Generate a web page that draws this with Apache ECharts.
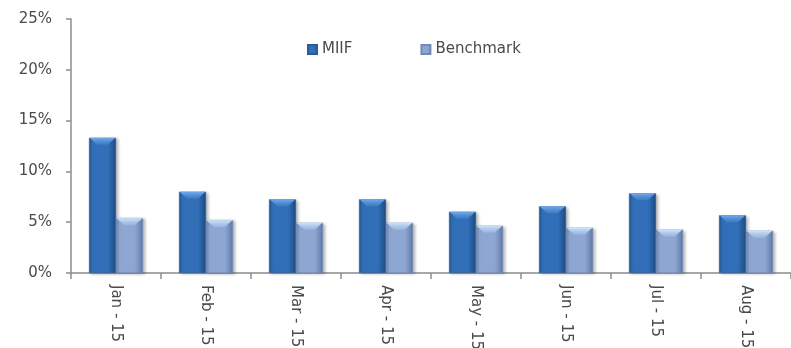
<!DOCTYPE html>
<html>
<head>
<meta charset="utf-8">
<script src="https://cdn.jsdelivr.net/npm/echarts@6/dist/echarts.min.js"></script>
<style>
  html, body { margin: 0; padding: 0; background: #fff; }
  #chart { width: 791px; height: 348px; }
</style>
</head>
<body>
<div id="chart"></div>
<script>
// Monthly returns, 2015
const months = ['Jan - 15', 'Feb - 15', 'Mar - 15', 'Apr - 15', 'May - 15', 'Jun - 15', 'Jul - 15', 'Aug - 15'];
const miif = [13.3, 8.0, 7.25, 7.25, 6.03, 6.56, 7.84, 5.68];
const benchmark = [5.4, 5.2, 4.95, 4.95, 4.66, 4.46, 4.27, 4.17];
const yTicks = [0, 5, 10, 15, 20, 25];

const FONT = '"DejaVu Sans", sans-serif';
const TEXT = '#4a4a4a';
const BAR_W = 27;

// horizontal shading gives the columns a rounded, lit look
function shade(edge, mid, right) {
  return new echarts.graphic.LinearGradient(0, 0, 1, 0, [
    { offset: 0, color: edge },
    { offset: 0.12, color: mid },
    { offset: 0.7, color: mid },
    { offset: 1, color: right }
  ]);
}

// bevelled cap drawn on top of each column
function cap(name, values, dx, top, bottom) {
  return {
    name: name,
    type: 'pictorialBar',
    data: values,
    symbol: 'path://M0,0 L27,0 L19,7 L8,7 Z',
    symbolSize: [BAR_W - 1, 7],
    symbolPosition: 'end',
    symbolOffset: [dx, 0],
    z: 5,
    silent: true,
    itemStyle: {
      color: new echarts.graphic.LinearGradient(0, 0, 0, 1, [
        { offset: 0, color: top },
        { offset: 1, color: bottom }
      ])
    }
  };
}

const chart = echarts.init(document.getElementById('chart'), null, { renderer: 'canvas' });

chart.setOption({
  animation: false,
  textStyle: { fontFamily: FONT },
  legend: {
    top: 37,
    left: 302,
    itemWidth: 9,
    itemHeight: 9,
    itemGap: 68,
    icon: 'rect',
    textStyle: { fontFamily: FONT, fontSize: 15, color: TEXT },
    data: ['MIIF', 'Benchmark']
  },
  grid: { left: 71, right: 0, top: 19, bottom: 75, containLabel: false, outerBoundsMode: 'none' },
  xAxis: {
    type: 'category',
    data: months,
    axisLine: { lineStyle: { color: '#8c8c8c', width: 1.5 } },
    axisTick: { show: true, length: 6, lineStyle: { color: '#8c8c8c', width: 1.5 } },
    axisLabel: {
      rotate: -90,
      margin: 12,
      fontFamily: FONT,
      fontSize: 15,
      color: TEXT
    }
  },
  yAxis: {
    type: 'value',
    min: yTicks[0],
    max: yTicks[yTicks.length - 1],
    interval: 5,
    splitLine: { show: false },
    axisLine: { show: true, lineStyle: { color: '#8c8c8c', width: 1.5 } },
    axisTick: { show: true, length: 5, lineStyle: { color: '#8c8c8c', width: 1.5 } },
    axisLabel: {
      margin: 19,
      fontFamily: FONT,
      fontSize: 15,
      color: TEXT,
      formatter: v => v + '%'
    }
  },
  series: [
    {
      name: 'MIIF',
      type: 'bar',
      data: miif,
      barWidth: BAR_W,
      barGap: '0%',
      itemStyle: {
        color: shade('#25558f', '#3170b8', '#1d4a82'),
        borderColor: '#2a5a98',
        borderWidth: 0.5,
        shadowColor: 'rgba(0,0,0,0.28)',
        shadowBlur: 3,
        shadowOffsetX: 2,
        shadowOffsetY: 1
      }
    },
    {
      name: 'Benchmark',
      type: 'bar',
      data: benchmark,
      barWidth: BAR_W,
      itemStyle: {
        color: shade('#6680b0', '#8ea7d2', '#5f78a6'),
        borderColor: '#6f8bb8',
        borderWidth: 0.5,
        shadowColor: 'rgba(0,0,0,0.28)',
        shadowBlur: 3,
        shadowOffsetX: 2,
        shadowOffsetY: 1
      }
    },
    cap('MIIF cap', miif, -BAR_W / 2, '#74acec', 'rgba(70,130,205,0.6)'),
    cap('Benchmark cap', benchmark, BAR_W / 2, '#d2e6fb', 'rgba(160,190,230,0.6)')
  ]
});
</script>
</body>
</html>
